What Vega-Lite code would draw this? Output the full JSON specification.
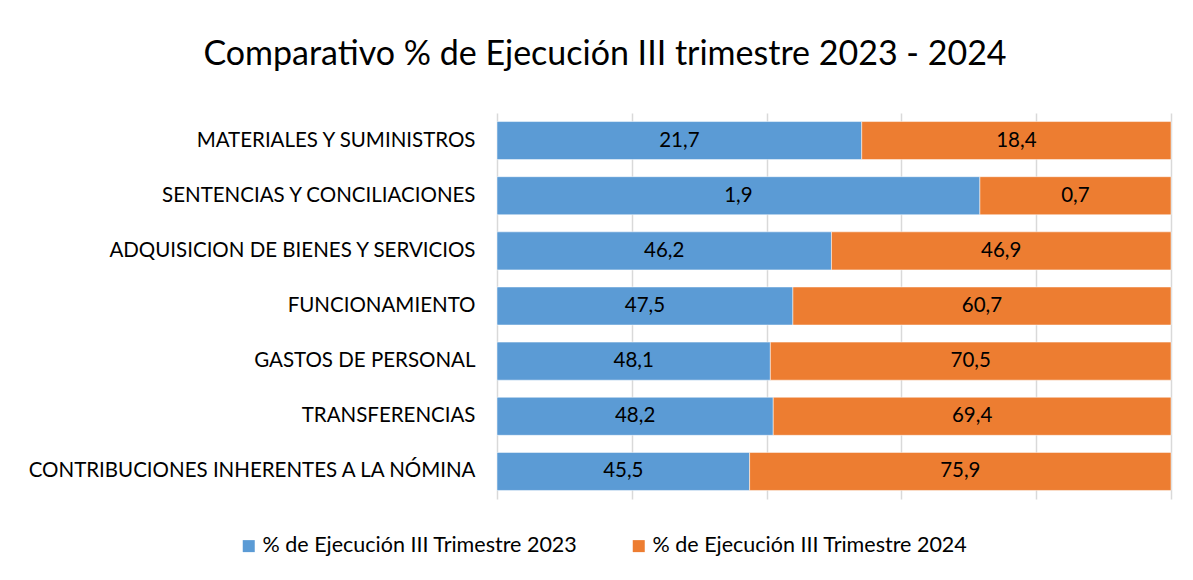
{
  "$schema": "https://vega.github.io/schema/vega-lite/v6.json",
  "width": 674,
  "height": 386,
  "autosize": "none",
  "padding": {"left": 497, "top": 113, "right": 22, "bottom": 81},
  "background": "white",
  "config": {"font": "Lato", "view": {"stroke": null}},
  "title": {
    "text": "Comparativo % de Ejecución III trimestre 2023 - 2024",
    "fontSize": 34,
    "font": "Lato",
    "fontWeight": "normal",
    "color": "#000000",
    "anchor": "middle",
    "dx": -229,
    "offset": 41
  },
  "data": {
    "values": [
      {"rubro": "MATERIALES Y SUMINISTROS", "serie": "% de Ejecución III Trimestre 2023", "valor": 21.7, "etiqueta": "21,7"},
      {"rubro": "MATERIALES Y SUMINISTROS", "serie": "% de Ejecución III Trimestre 2024", "valor": 18.4, "etiqueta": "18,4"},
      {"rubro": "SENTENCIAS Y CONCILIACIONES", "serie": "% de Ejecución III Trimestre 2023", "valor": 1.87, "etiqueta": "1,9"},
      {"rubro": "SENTENCIAS Y CONCILIACIONES", "serie": "% de Ejecución III Trimestre 2024", "valor": 0.74, "etiqueta": "0,7"},
      {"rubro": "ADQUISICION DE BIENES Y SERVICIOS", "serie": "% de Ejecución III Trimestre 2023", "valor": 46.2, "etiqueta": "46,2"},
      {"rubro": "ADQUISICION DE BIENES Y SERVICIOS", "serie": "% de Ejecución III Trimestre 2024", "valor": 46.9, "etiqueta": "46,9"},
      {"rubro": "FUNCIONAMIENTO", "serie": "% de Ejecución III Trimestre 2023", "valor": 47.5, "etiqueta": "47,5"},
      {"rubro": "FUNCIONAMIENTO", "serie": "% de Ejecución III Trimestre 2024", "valor": 60.7, "etiqueta": "60,7"},
      {"rubro": "GASTOS DE PERSONAL", "serie": "% de Ejecución III Trimestre 2023", "valor": 48.1, "etiqueta": "48,1"},
      {"rubro": "GASTOS DE PERSONAL", "serie": "% de Ejecución III Trimestre 2024", "valor": 70.5, "etiqueta": "70,5"},
      {"rubro": "TRANSFERENCIAS", "serie": "% de Ejecución III Trimestre 2023", "valor": 48.2, "etiqueta": "48,2"},
      {"rubro": "TRANSFERENCIAS", "serie": "% de Ejecución III Trimestre 2024", "valor": 69.4, "etiqueta": "69,4"},
      {"rubro": "CONTRIBUCIONES INHERENTES A LA NÓMINA", "serie": "% de Ejecución III Trimestre 2023", "valor": 45.5, "etiqueta": "45,5"},
      {"rubro": "CONTRIBUCIONES INHERENTES A LA NÓMINA", "serie": "% de Ejecución III Trimestre 2024", "valor": 75.9, "etiqueta": "75,9"}
    ]
  },
  "transform": [
    {"stack": "valor", "groupby": ["rubro"], "sort": [{"field": "serie", "order": "ascending"}], "offset": "normalize", "as": ["x0", "x1"]},
    {"calculate": "(datum.x0 + datum.x1) / 2", "as": "xm"}
  ],
  "encoding": {
    "y": {
      "field": "rubro",
      "type": "nominal",
      "sort": null,
      "scale": {"paddingInner": 0.31, "paddingOuter": 0.155},
      "axis": {
        "title": null,
        "domain": false,
        "ticks": false,
        "labelFontSize": 20.5,
        "labelColor": "#000000",
        "labelPadding": 22,
        "labelLimit": 600,
        "labelFont": "Lato"
      }
    }
  },
  "layer": [
    {
      "mark": {"type": "bar", "stroke": "white", "strokeWidth": 0.5},
      "encoding": {
        "x": {
          "field": "x0",
          "type": "quantitative",
          "scale": {"domain": [0, 1], "nice": false},
          "axis": {
            "title": null,
            "labels": false,
            "ticks": false,
            "domain": false,
            "grid": true,
            "values": [0, 0.2, 0.4, 0.6, 0.8, 1],
            "gridColor": "#D9D9D9",
            "gridWidth": 1.5
          }
        },
        "x2": {"field": "x1"},
        "color": {
          "field": "serie",
          "type": "nominal",
          "scale": {
            "domain": ["% de Ejecución III Trimestre 2023", "% de Ejecución III Trimestre 2024"],
            "range": ["#5B9BD5", "#ED7D31"]
          },
          "legend": {
            "orient": "none",
            "legendX": -259,
            "legendY": 422,
            "direction": "horizontal",
            "title": null,
            "symbolType": "square",
            "symbolSize": 144,
            "symbolStrokeWidth": 0,
            "labelFontSize": 21.5,
            "labelColor": "#000000",
            "labelFont": "Lato",
            "labelLimit": 600,
            "columnPadding": 50,
            "labelOffset": 3
          }
        }
      }
    },
    {
      "mark": {"type": "text", "fontSize": 20.5, "color": "#000000", "font": "Lato"},
      "encoding": {
        "x": {"field": "xm", "type": "quantitative"},
        "text": {"field": "etiqueta"}
      }
    }
  ]
}
